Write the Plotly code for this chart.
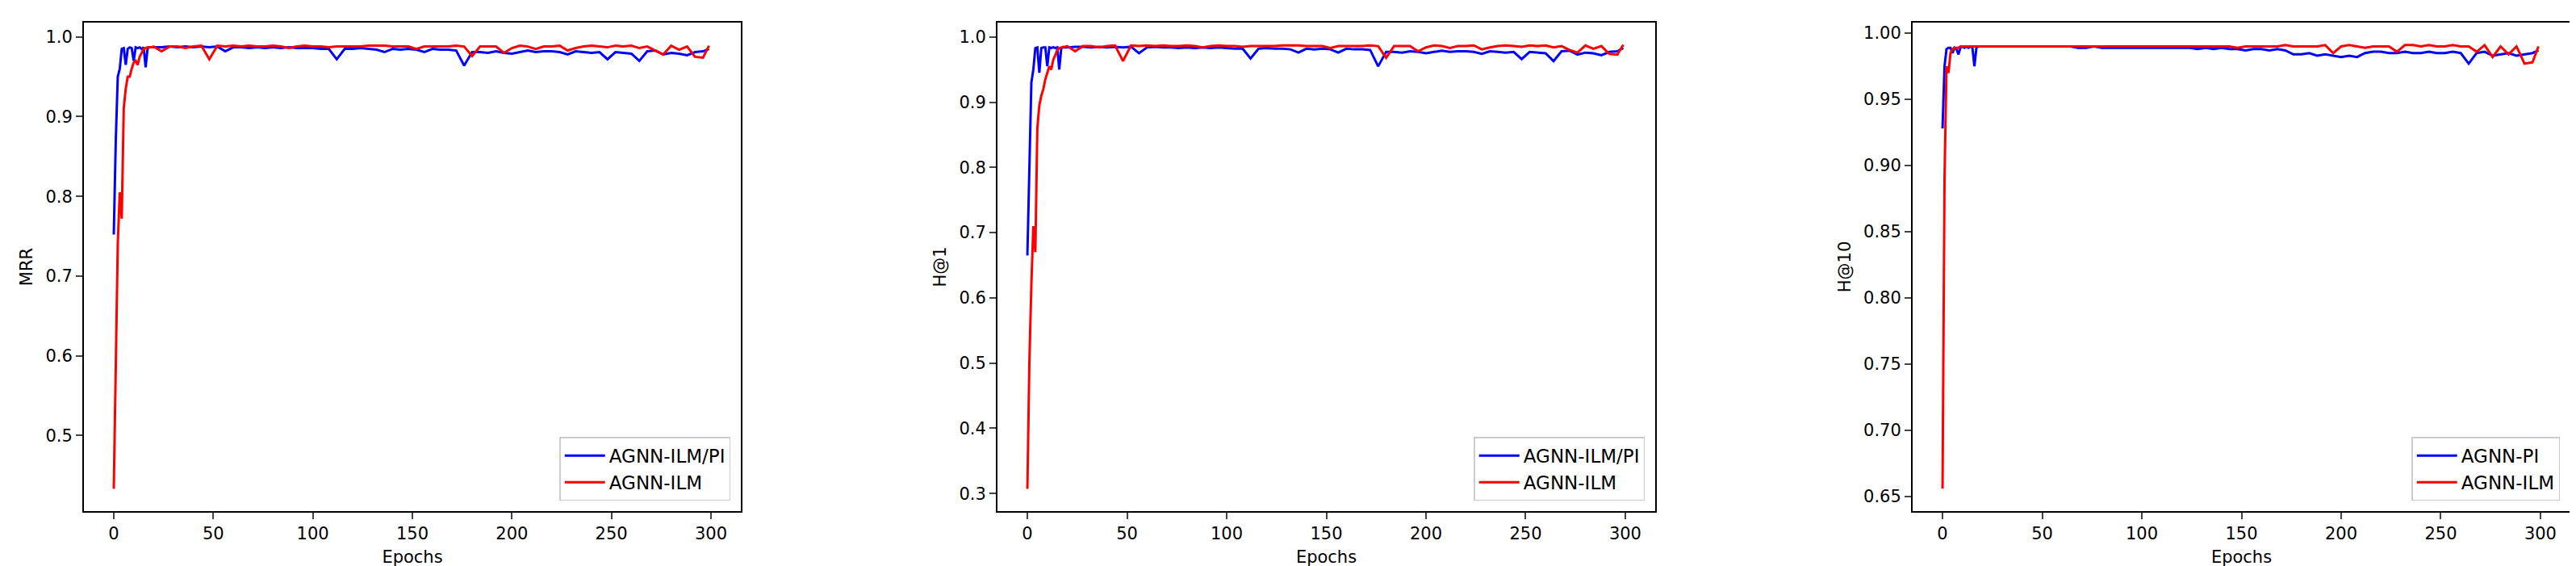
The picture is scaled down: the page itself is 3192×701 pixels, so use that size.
import plotly.graph_objects as go

epochs = list(range(20)) + list(range(20, 300, 4)) + [299]

mrr_pi = [0.752,0.87,0.95,0.96,0.985,0.986,0.965,0.985,0.987,0.986,0.970,0.987,0.986,0.987,0.985,0.987,0.962,0.986,0.987,0.987,
 0.987,0.987,0.988,0.987,0.988,0.987,0.988,0.987,0.988,0.982,0.987,0.987,0.986,0.987,0.986,0.987,0.986,0.987,0.986,0.986,
 0.986,0.985,0.985,0.972,0.985,0.985,0.986,0.985,0.984,0.981,0.985,0.984,0.985,0.984,0.981,0.985,0.984,0.984,0.983,0.964,
 0.981,0.981,0.980,0.982,0.980,0.979,0.981,0.983,0.981,0.982,0.982,0.981,0.978,0.982,0.981,0.980,0.981,0.972,0.981,0.980,
 0.979,0.970,0.982,0.983,0.978,0.980,0.979,0.977,0.981,0.982,0.985]
mrr_ilm = [0.433,0.60,0.74,0.805,0.772,0.91,0.935,0.95,0.95,0.96,0.968,0.97,0.965,0.975,0.98,0.985,0.986,0.987,0.987,0.987,
 0.988,0.982,0.988,0.988,0.986,0.988,0.989,0.972,0.989,0.988,0.989,0.988,0.989,0.988,0.988,0.989,0.988,0.986,0.988,0.989,
 0.988,0.988,0.987,0.988,0.988,0.988,0.988,0.989,0.989,0.989,0.988,0.988,0.988,0.985,0.988,0.988,0.988,0.988,0.989,0.988,
 0.976,0.988,0.988,0.988,0.980,0.986,0.989,0.988,0.985,0.988,0.988,0.989,0.983,0.986,0.988,0.989,0.988,0.987,0.989,0.988,
 0.989,0.986,0.988,0.983,0.978,0.989,0.984,0.988,0.975,0.974,0.989]

h1_pi = [0.665,0.82,0.93,0.95,0.983,0.984,0.945,0.983,0.984,0.984,0.955,0.984,0.983,0.984,0.983,0.984,0.950,0.983,0.984,0.984,
 0.984,0.985,0.985,0.984,0.985,0.984,0.985,0.984,0.985,0.975,0.984,0.985,0.984,0.984,0.983,0.984,0.983,0.984,0.983,0.984,
 0.983,0.982,0.982,0.967,0.982,0.983,0.982,0.982,0.981,0.976,0.982,0.981,0.982,0.981,0.976,0.982,0.981,0.981,0.980,0.955,
 0.977,0.977,0.976,0.978,0.977,0.975,0.977,0.979,0.977,0.978,0.978,0.977,0.974,0.978,0.977,0.976,0.977,0.966,0.977,0.976,
 0.975,0.963,0.978,0.979,0.973,0.976,0.975,0.972,0.977,0.978,0.983]
h1_ilm = [0.307,0.50,0.62,0.71,0.67,0.86,0.895,0.91,0.92,0.935,0.945,0.955,0.95,0.965,0.972,0.98,0.983,0.984,0.985,0.985,
 0.986,0.978,0.986,0.986,0.984,0.986,0.987,0.963,0.987,0.986,0.987,0.986,0.987,0.986,0.986,0.987,0.986,0.984,0.986,0.987,
 0.986,0.986,0.985,0.986,0.986,0.986,0.986,0.987,0.987,0.987,0.986,0.986,0.986,0.983,0.986,0.986,0.986,0.986,0.987,0.986,
 0.968,0.986,0.986,0.986,0.978,0.984,0.987,0.986,0.983,0.986,0.986,0.987,0.981,0.984,0.986,0.987,0.986,0.985,0.987,0.986,
 0.987,0.984,0.986,0.980,0.976,0.987,0.982,0.986,0.974,0.973,0.988]

h10_pi = [0.928,0.975,0.988,0.989,0.989,0.985,0.989,0.988,0.984,0.989,0.990,0.989,0.990,0.989,0.990,0.989,0.975,0.989,0.990,0.990,
 0.990,0.990,0.990,0.990,0.990,0.990,0.990,0.990,0.990,0.990,0.990,0.990,0.989,0.989,0.990,0.989,0.989,0.989,0.989,0.989,
 0.989,0.989,0.989,0.989,0.989,0.989,0.989,0.988,0.989,0.988,0.989,0.988,0.988,0.987,0.988,0.988,0.987,0.988,0.987,0.984,
 0.984,0.985,0.983,0.984,0.983,0.982,0.983,0.982,0.985,0.986,0.986,0.985,0.985,0.986,0.985,0.985,0.986,0.985,0.985,0.986,
 0.985,0.977,0.985,0.986,0.983,0.984,0.985,0.983,0.984,0.985,0.987]
h10_ilm = [0.656,0.89,0.975,0.97,0.985,0.988,0.989,0.989,0.989,0.990,0.990,0.990,0.990,0.990,0.990,0.990,0.990,0.990,0.990,0.990,
 0.990,0.990,0.990,0.990,0.990,0.990,0.990,0.990,0.990,0.990,0.990,0.990,0.990,0.990,0.990,0.990,0.990,0.990,0.990,0.990,
 0.990,0.990,0.990,0.990,0.990,0.990,0.990,0.990,0.990,0.990,0.990,0.990,0.989,0.990,0.990,0.990,0.990,0.990,0.991,0.990,
 0.990,0.990,0.990,0.991,0.985,0.990,0.991,0.990,0.989,0.990,0.990,0.990,0.986,0.991,0.991,0.990,0.991,0.990,0.990,0.991,
 0.990,0.990,0.986,0.991,0.982,0.990,0.984,0.990,0.977,0.978,0.990]

panels = [
    ("MRR", mrr_pi, mrr_ilm, "AGNN-ILM/PI", [0.405, 1.018], [0.5, 0.6, 0.7, 0.8, 0.9, 1.0], ["0.5","0.6","0.7","0.8","0.9","1.0"]),
    ("H@1", h1_pi, h1_ilm, "AGNN-ILM/PI", [0.273, 1.022], [0.3,0.4,0.5,0.6,0.7,0.8,0.9,1.0], ["0.3","0.4","0.5","0.6","0.7","0.8","0.9","1.0"]),
    ("H@10", h10_pi, h10_ilm, "AGNN-PI", [0.639, 1.008], [0.65,0.70,0.75,0.80,0.85,0.90,0.95,1.00], ["0.65","0.70","0.75","0.80","0.85","0.90","0.95","1.00"]),
]
xdoms = [(96/3192, 910/3192), (1228/3192, 2043/3192), (2362/3192, 3177/3192)]
ydom = (1 - 625/701, 1 - 20/701)

fig = go.Figure()
font = dict(family="DejaVu Sans", size=21, color="black")
legfont = dict(family="DejaVu Sans", size=23, color="black")
for i, (label, pi, ilm, pilabel, yr, yt, ytt) in enumerate(panels):
    n = "" if i == 0 else str(i + 1)
    leg = "legend" if i == 0 else f"legend{i+1}"
    fig.add_trace(go.Scatter(x=epochs, y=pi, mode="lines", name=pilabel, line=dict(color="blue", width=3),
                             xaxis="x"+n, yaxis="y"+n, legend=leg))
    fig.add_trace(go.Scatter(x=epochs, y=ilm, mode="lines", name="AGNN-ILM", line=dict(color="red", width=3),
                             xaxis="x"+n, yaxis="y"+n, legend=leg))
    ax = dict(showgrid=False, zeroline=False, showline=True, mirror=True, linecolor="black", linewidth=2,
              ticks="outside", ticklen=8, tickwidth=1.5, tickfont=font)
    fig.update_layout(**{
        "xaxis"+n: dict(ax, domain=list(xdoms[i]), range=[-15, 315], tickvals=[0,50,100,150,200,250,300],
                        anchor="y"+n, title=dict(text="Epochs", font=font, standoff=10)),
        "yaxis"+n: dict(ax, domain=list(ydom), range=yr, tickvals=yt, ticktext=ytt, anchor="x"+n,
                        title=dict(text=label, font=font, standoff=10)),
        leg: dict(x=xdoms[i][1] - 0.004, y=ydom[0] + 0.018, xanchor="right", yanchor="bottom",
                  bgcolor="white", bordercolor="#cccccc", borderwidth=1.5, font=legfont, tracegroupgap=0,
                  itemwidth=50),
    })

fig.update_layout(width=3192, height=701, margin=dict(l=0, r=0, t=0, b=0),
                  plot_bgcolor="white", paper_bgcolor="white", showlegend=True)
fig.write_html("out.html")
